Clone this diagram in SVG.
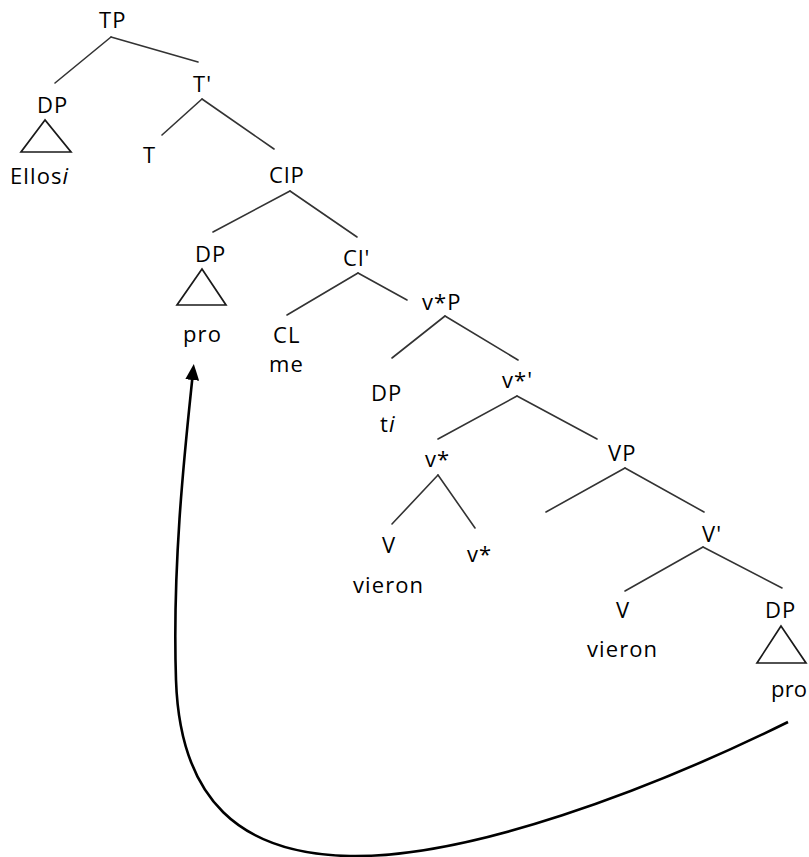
<svg xmlns="http://www.w3.org/2000/svg" width="809" height="857" viewBox="0 0 809 857">
<style>
text{font-family:"Open Sans","Liberation Sans",sans-serif;font-size:22px;fill:#000;letter-spacing:1.1px}
.e{stroke:#333;stroke-width:1.6;fill:none;stroke-linecap:round}
.tri{stroke:#1a1a1a;stroke-width:1.7;fill:none;stroke-linejoin:miter}
.mv{stroke:#000;stroke-width:2.6;fill:none}
</style>
<defs>
<marker id="ah" viewBox="0 0 16 14" refX="8" refY="7" markerWidth="16" markerHeight="14" markerUnits="userSpaceOnUse" orient="auto">
<path d="M0,0 L16,7 L0,14 z" fill="#000"/>
</marker>
</defs>
<rect width="809" height="857" fill="#fff"/>
<g id="connectors">
<line class="e" x1="111" y1="37" x2="55" y2="83"/>
<line class="e" x1="111" y1="37" x2="198" y2="62"/>
<line class="e" x1="202" y1="99" x2="162" y2="135"/>
<line class="e" x1="202" y1="99" x2="274" y2="149"/>
<line class="e" x1="290" y1="191" x2="213" y2="232"/>
<line class="e" x1="290" y1="191" x2="357" y2="237"/>
<line class="e" x1="358" y1="273" x2="287" y2="315"/>
<line class="e" x1="358" y1="273" x2="407" y2="300"/>
<line class="e" x1="445" y1="316" x2="392" y2="358"/>
<line class="e" x1="445" y1="316" x2="518" y2="360"/>
<line class="e" x1="517" y1="396" x2="438" y2="439"/>
<line class="e" x1="517" y1="396" x2="597" y2="439"/>
<line class="e" x1="438" y1="475" x2="392" y2="524"/>
<line class="e" x1="438" y1="475" x2="475" y2="528"/>
<line class="e" x1="625" y1="468" x2="546" y2="512"/>
<line class="e" x1="625" y1="468" x2="704" y2="512"/>
<line class="e" x1="703" y1="547" x2="625" y2="591"/>
<line class="e" x1="703" y1="547" x2="782" y2="588"/>
<path class="mv" marker-end="url(#ah)" d="M788,722 C650,790 470,858 350,856 C240,854 180,800 176,680 C172,560 186,440 193,372"/>
</g>
<g id="n-TP"><text x="99" y="28">TP</text></g>
<g id="n-DP1"><text x="37" y="113">DP</text><polygon class="tri" points="45,120 21,152 71,152"/><text x="10" y="184">Ellos<tspan font-style="italic">i</tspan></text></g>
<g id="n-Tbar"><text x="193" y="92">T'</text></g>
<g id="n-T"><text x="143" y="163">T</text></g>
<g id="n-ClP"><text x="269" y="183">ClP</text></g>
<g id="n-DP2"><text x="195" y="262">DP</text><polygon class="tri" points="202,269 177,305 226,305"/><text x="183" y="342">pro</text></g>
<g id="n-Clbar"><text x="343" y="266">Cl'</text></g>
<g id="n-CL"><text x="273" y="343">CL</text><text x="269" y="372">me</text></g>
<g id="n-vP"><text x="422" y="310">v*P</text></g>
<g id="n-DP3"><text x="371" y="401">DP</text><text x="380" y="432">t<tspan font-style="italic">i</tspan></text></g>
<g id="n-vbar"><text x="502" y="388">v*'</text></g>
<g id="n-v1"><text x="425" y="467">v*</text></g>
<g id="n-VP"><text x="608" y="461">VP</text></g>
<g id="n-V1"><text x="382" y="553">V</text><text x="353" y="593">vieron</text></g>
<g id="n-v2"><text x="467" y="562">v*</text></g>
<g id="n-Vbar"><text x="702" y="542">V'</text></g>
<g id="n-V2"><text x="616" y="618">V</text><text x="587" y="657">vieron</text></g>
<g id="n-DP4"><text x="765" y="618">DP</text><polygon class="tri" points="781,626 757,663 806,663"/><text x="771" y="697" style="letter-spacing:0.2px">pro</text></g>
</svg>
